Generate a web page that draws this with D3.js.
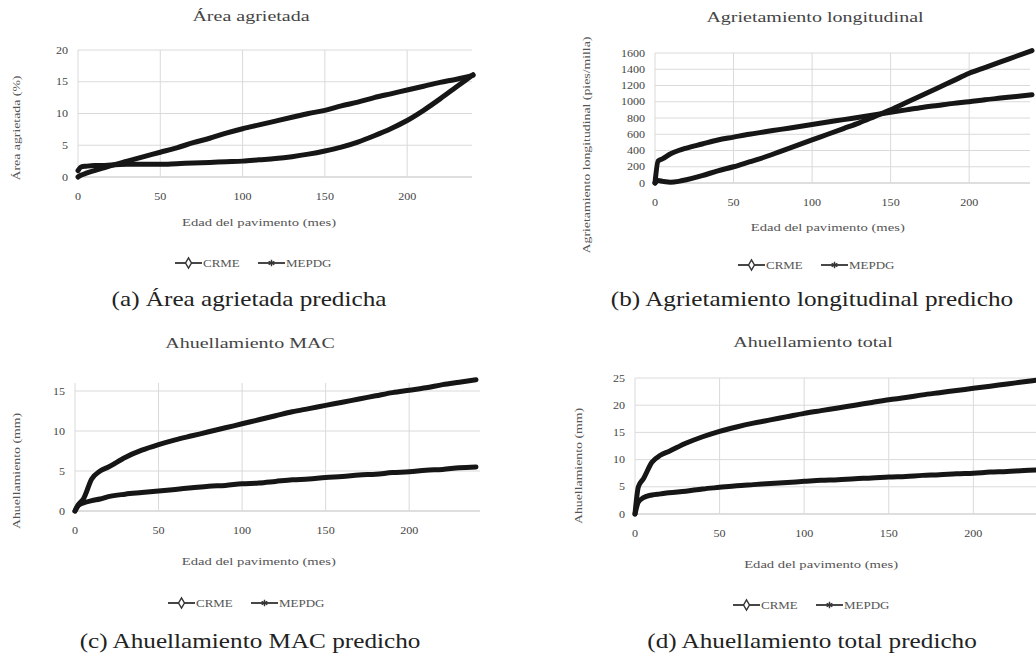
<!DOCTYPE html>
<html>
<head>
<meta charset="utf-8">
<script src="https://cdn.jsdelivr.net/npm/d3@7"></script>
<style>
  body { margin: 0; background: #fff; }
  svg { display: block; }
  text { font-family: "Liberation Serif", "Times New Roman", serif; }
</style>
</head>
<body>
<div id="chart"></div>
<script>
// Datos (mes -> valor)
const meses = [0, 2, 5, 10, 15, 20, 30, 40, 50, 60, 70, 80, 90, 100, 110, 120, 130, 140, 150, 160, 170, 180, 190, 200, 210, 220, 230, 240];
const xTicks = [0, 50, 100, 150, 200];

// (a) Área agrietada (%)
const areaCRME = [1.0, 1.6, 1.7, 1.8, 1.8, 1.9, 2.0, 2.0, 2.0, 2.1, 2.2, 2.3, 2.4, 2.5, 2.7, 2.9, 3.2, 3.6, 4.1, 4.7, 5.5, 6.5, 7.6, 8.9, 10.5, 12.3, 14.2, 16.1];
const areaMEPDG = [0, 0.3, 0.6, 1.0, 1.4, 1.8, 2.5, 3.2, 3.9, 4.6, 5.4, 6.1, 6.9, 7.6, 8.2, 8.8, 9.4, 10.0, 10.5, 11.2, 11.8, 12.5, 13.1, 13.7, 14.3, 14.9, 15.4, 16.0];
const areaTicks = [0, 5, 10, 15, 20];

// (b) Agrietamiento longitudinal
const longCRME = [0, 270, 300, 360, 400, 430, 480, 530, 565, 600, 630, 660, 690, 720, 750, 780, 810, 840, 870, 900, 930, 955, 980, 1000, 1025, 1045, 1065, 1085];
const longMEPDG = [0, 30, 20, 10, 20, 40, 90, 150, 200, 260, 320, 390, 460, 530, 600, 670, 740, 820, 900, 990, 1080, 1170, 1260, 1350, 1420, 1490, 1560, 1630];
const longTicks = [0, 200, 400, 600, 800, 1000, 1200, 1400, 1600];

// (c) Ahuellamiento MAC (mm)
const macCRME = [0, 0.7, 1.0, 1.3, 1.5, 1.8, 2.1, 2.3, 2.5, 2.7, 2.9, 3.1, 3.2, 3.4, 3.5, 3.7, 3.9, 4.0, 4.2, 4.3, 4.5, 4.6, 4.8, 4.9, 5.1, 5.2, 5.4, 5.5];
const macMEPDG = [0, 0.8, 1.5, 4.0, 5.0, 5.5, 6.7, 7.6, 8.3, 8.9, 9.4, 9.9, 10.4, 10.9, 11.4, 11.9, 12.4, 12.8, 13.2, 13.6, 14.0, 14.4, 14.8, 15.1, 15.4, 15.8, 16.1, 16.4];
const macTicks = [0, 5, 10, 15];

// (d) Ahuellamiento total (mm)
const totCRME = [0, 2.2, 3.0, 3.5, 3.7, 3.9, 4.2, 4.6, 4.9, 5.2, 5.4, 5.6, 5.8, 6.0, 6.2, 6.3, 6.5, 6.6, 6.8, 6.9, 7.1, 7.2, 7.4, 7.5, 7.7, 7.8, 8.0, 8.1];
const totMEPDG = [0, 5.0, 6.5, 9.5, 10.8, 11.5, 13.0, 14.2, 15.2, 16.0, 16.7, 17.3, 17.9, 18.5, 19.0, 19.5, 20.0, 20.5, 21.0, 21.4, 21.9, 22.3, 22.7, 23.1, 23.5, 23.9, 24.3, 24.7];
const totTicks = [0, 5, 10, 15, 20, 25];

const series = ["CRME", "MEPDG"];

const width = 1036;
const height = 656;

const svg = d3
  .select("#chart")
  .append("svg")
  .attr("width", width)
  .attr("height", height);

// Texto estirado en horizontal (la figura original está ensanchada)
const addText = (g, x, y, str, size, k, anchor, color, rot) => {
  return g
    .append("text")
    .attr("transform", `translate(${x},${y})${rot ? " rotate(-90)" : ""} scale(${k},1)`)
    .attr("text-anchor", anchor)
    .style("font-size", size + "px")
    .style("fill", color)
    .text(str);
};

// Paneles: datos + posición en la página
const panels = [
  {
    title: "Área agrietada", ylabel: "Área agrietada (%)", caption: "(a) Área agrietada predicha",
    a: areaCRME, b: areaMEPDG, yTicks: areaTicks, yMax: 20,
    x0: 78, x1: 473, gridRight: 472, y0: 177, y1: 50,
    titleX: 251, titleY: 21, ylabX: 20, ylabY: 128, xlabY: 226, legY: 263, legX: 175, capY: 306, cx: 249
  },
  {
    title: "Agrietamiento longitudinal", ylabel: "Agrietamiento longitudinal (pies/milla)", caption: "(b) Agrietamiento longitudinal predicho",
    a: longCRME, b: longMEPDG, yTicks: longTicks, yMax: 1600,
    x0: 655, x1: 1032, gridRight: 1030, y0: 183, y1: 53,
    titleX: 815, titleY: 22, ylabX: 590, ylabY: 145, xlabY: 231, legY: 265, legX: 738, capY: 306, cx: 812
  },
  {
    title: "Ahuellamiento MAC", ylabel: "Ahuellamiento (mm)", caption: "(c) Ahuellamiento MAC predicho",
    a: macCRME, b: macMEPDG, yTicks: macTicks, yMax: 16,
    x0: 75, x1: 476, gridRight: 480, y0: 511, y1: 383,
    titleX: 250, titleY: 348, ylabX: 20, ylabY: 471, xlabY: 565, legY: 603, legX: 168, capY: 648, cx: 250
  },
  {
    title: "Ahuellamiento total", ylabel: "Ahuellamiento (mm)", caption: "(d) Ahuellamiento total predicho",
    a: totCRME, b: totMEPDG, yTicks: totTicks, yMax: 25,
    x0: 635, x1: 1041, gridRight: 1050, y0: 514, y1: 378,
    titleX: 813, titleY: 347, ylabX: 582, ylabY: 466, xlabY: 568, legY: 605, legX: 733, capY: 648, cx: 812
  }
];

panels.forEach((p) => {
  const g = svg.append("g");
  const x = d3.scaleLinear().domain([0, 240]).range([p.x0, p.x1]);
  const y = d3.scaleLinear().domain([0, p.yMax]).range([p.y0, p.y1]);

  // Rejilla horizontal
  g.selectAll(".hgrid")
    .data(p.yTicks)
    .enter()
    .append("line")
    .attr("x1", p.x0)
    .attr("x2", p.gridRight)
    .attr("y1", (d) => y(d))
    .attr("y2", (d) => y(d))
    .style("stroke", (d) => (d === 0 ? "#bdbdbd" : "#dadada"))
    .style("stroke-width", 1);

  // Rejilla vertical
  g.selectAll(".vgrid")
    .data(xTicks)
    .enter()
    .append("line")
    .attr("x1", (d) => x(d))
    .attr("x2", (d) => x(d))
    .attr("y1", y(0))
    .attr("y2", y(p.yMax))
    .style("stroke", "#dadada")
    .style("stroke-width", 1);

  // Etiquetas de los ejes
  p.yTicks.forEach((d) => addText(g, p.x0 - 10, y(d) + 3.5, d, 10.5, 1.15, "end", "#444"));
  xTicks.forEach((d) => addText(g, x(d), p.y0 + 23, d, 10.5, 1.15, "middle", "#444"));

  // Títulos
  addText(g, p.titleX, p.titleY, p.title, 14.5, 1.38, "middle", "#444");
  addText(g, p.ylabX, p.ylabY, p.ylabel, 10, 1.38, "middle", "#555", true);
  addText(g, x(110), p.xlabY, "Edad del pavimento (mes)", 11, 1.33, "middle", "#555");

  // Curvas
  const line = d3
    .line()
    .x((d, i) => x(meses[i]))
    .y((d) => y(d))
    .curve(d3.curveMonotoneX);

  [p.a, p.b].forEach((vals) => {
    g.append("path")
      .attr("d", line(vals))
      .style("fill", "none")
      .style("stroke", "#161616")
      .style("stroke-width", 5)
      .style("stroke-linejoin", "round")
      .style("stroke-linecap", "round");
  });

  // Leyenda
  series.forEach((s, i) => {
    const lx = p.legX + i * 83;
    g.append("line")
      .attr("x1", lx)
      .attr("x2", lx + 27)
      .attr("y1", p.legY)
      .attr("y2", p.legY)
      .style("stroke", "#333")
      .style("stroke-width", 1.8);
    g.append("path")
      .attr("d", d3.symbol().type(i === 0 ? d3.symbolDiamond : d3.symbolAsterisk).size(30)())
      .attr("transform", `translate(${lx + 13.5},${p.legY})`)
      .style("fill", i === 0 ? "#fff" : "none")
      .style("stroke", "#333")
      .style("stroke-width", 1.4);
    addText(g, lx + 28, p.legY + 3.5, s, 11, 1.18, "start", "#555");
  });

  // Pie de figura
  addText(g, p.cx, p.capY, p.caption, 21, 1.2, "middle", "#222");
});
</script>
</body>
</html>
